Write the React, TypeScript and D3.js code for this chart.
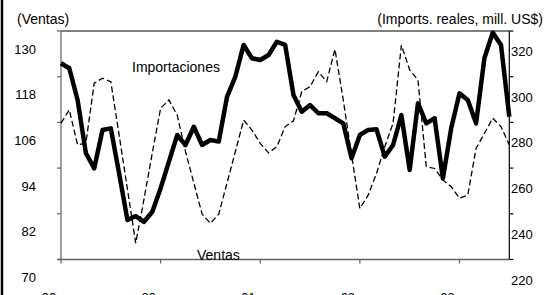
import React from "react";
import * as d3 from "d3";

// Monthly series (55 months)
const ventas: number[] = [
  105.8, 109.3, 100.1, 100.6, 116.3, 117.6, 116.7, 102.7, 88.5, 74.3,
  85.9, 98.0, 109.7, 111.9, 107.9, 98.3, 90.1, 81.9, 79.5, 81.9,
  90.1, 98.3, 106.6, 104.0, 100.5, 98.0, 99.6, 104.9, 106.4, 114.1,
  115.4, 119.3, 116.7, 125.2, 111.9, 97.4, 83.4, 86.9, 92.6, 99.6,
  105.8, 126.3, 119.8, 117.1, 94.4, 93.9, 90.9, 89.1, 86.1, 86.9,
  99.2, 103.1, 107.1, 104.9, 100.1,
];
const importaciones: number[] = [
  305.9, 303.7, 289.8, 266.5, 259.9, 276.7, 277.4, 257.7, 237.3, 239.0,
  236.5, 240.9, 251.2, 262.8, 274.5, 270.1, 278.1, 270.1, 272.3, 271.6,
  291.2, 300.0, 313.9, 308.1, 307.3, 309.5, 315.3, 313.9, 292.0, 284.7,
  287.6, 284.0, 284.0, 281.8, 279.6, 264.3, 274.5, 276.7, 277.0, 265.0,
  270.1, 283.2, 259.2, 288.4, 279.6, 281.8, 255.5, 277.4, 292.7, 289.8,
  279.6, 308.1, 319.3, 313.9, 282.5,
];
const leftTicks: number[] = [130, 118, 106, 94, 82, 70];
const rightTicks: number[] = [320, 300, 280, 260, 240, 220];
const yearLabels: string[] = ["99", "00", "01", "02", "03"];
const yearStarts: number[] = [0, 12, 24, 36, 48];

const W = 549;
const H = 295;
const FONT = "'Liberation Sans', Arial, sans-serif";

export default function App() {
  const top = 31;
  const bottom = 259.5;
  const left = 61;
  const right = 509.3;
  const n = ventas.length;

  const x = d3.scaleLinear().domain([0, n - 1]).range([left, right]);
  const yL = d3.scaleLinear().domain([70, 130]).range([bottom, top]);
  const yR = d3.scaleLinear().domain([220, 320]).range([bottom, top]);

  const lineL = d3
    .line<number>()
    .x((_, i) => x(i))
    .y((d) => yL(d));
  const lineR = d3
    .line<number>()
    .x((_, i) => x(i))
    .y((d) => yR(d));

  const axisGray = "#606060";

  return (
    <svg
      width={W}
      height={H}
      style={{ position: "absolute", left: 0, top: 0, background: "#fff" }}
      fontFamily={FONT}
    >
      <rect x={0} y={0} width={W} height={H} fill="#fff" />
      {/* outer frame left edge */}
      <line x1={2} x2={2} y1={0} y2={H} stroke="#000" strokeWidth={2.5} />

      {/* titles */}
      <text x={17} y={23.5} fontSize={14} fill="#000">
        (Ventas)
      </text>
      <text x={543} y={23.5} fontSize={14} fill="#000" textAnchor="end">
        (Imports. reales, mill. US$)
      </text>

      {/* top border */}
      <line x1={left} x2={right} y1={top} y2={top} stroke="#000" strokeWidth={1.2} />

      {/* left axis */}
      <line x1={left} x2={left} y1={top} y2={bottom} stroke={axisGray} strokeWidth={1.2} />
      {leftTicks.map((v) => (
        <g key={"l" + v}>
          <line x1={left - 4} x2={left} y1={yL(v)} y2={yL(v)} stroke={axisGray} strokeWidth={1.2} />
          <text x={36} y={yL(v) + 22.5} fontSize={13} textAnchor="end" fill="#000">
            {v}
          </text>
        </g>
      ))}

      {/* right axis */}
      <line x1={right} x2={right} y1={top} y2={bottom} stroke="#000" strokeWidth={1.2} />
      {rightTicks.map((v) => (
        <g key={"r" + v}>
          <line x1={right} x2={right + 4} y1={yR(v)} y2={yR(v)} stroke="#000" strokeWidth={1.2} />
          <text x={511} y={yR(v) + 25} fontSize={13} textAnchor="start" fill="#000">
            {v}
          </text>
        </g>
      ))}

      {/* bottom axis */}
      <line x1={left - 3} x2={right} y1={bottom} y2={bottom} stroke={axisGray} strokeWidth={1.4} />
      {yearStarts.map((m, k) => (
        <g key={"x" + m}>
          <line x1={x(m)} x2={x(m)} y1={bottom} y2={bottom + 4} stroke={axisGray} strokeWidth={1.2} />
          <text x={x(m) - 12} y={302} fontSize={13} textAnchor="middle" fill="#000">
            {yearLabels[k]}
          </text>
        </g>
      ))}

      {/* series */}
      <path
        d={lineL(ventas) || ""}
        fill="none"
        stroke="#000"
        strokeWidth={1.3}
        strokeDasharray="6,3"
      />
      <path
        d={lineR(importaciones) || ""}
        fill="none"
        stroke="#000"
        strokeWidth={4.5}
        strokeLinejoin="round"
      />

      {/* annotations */}
      <text x={132} y={72} fontSize={14} fill="#000">
        Importaciones
      </text>
      <text x={197} y={260} fontSize={14} fill="#000">
        Ventas
      </text>
    </svg>
  );
}
